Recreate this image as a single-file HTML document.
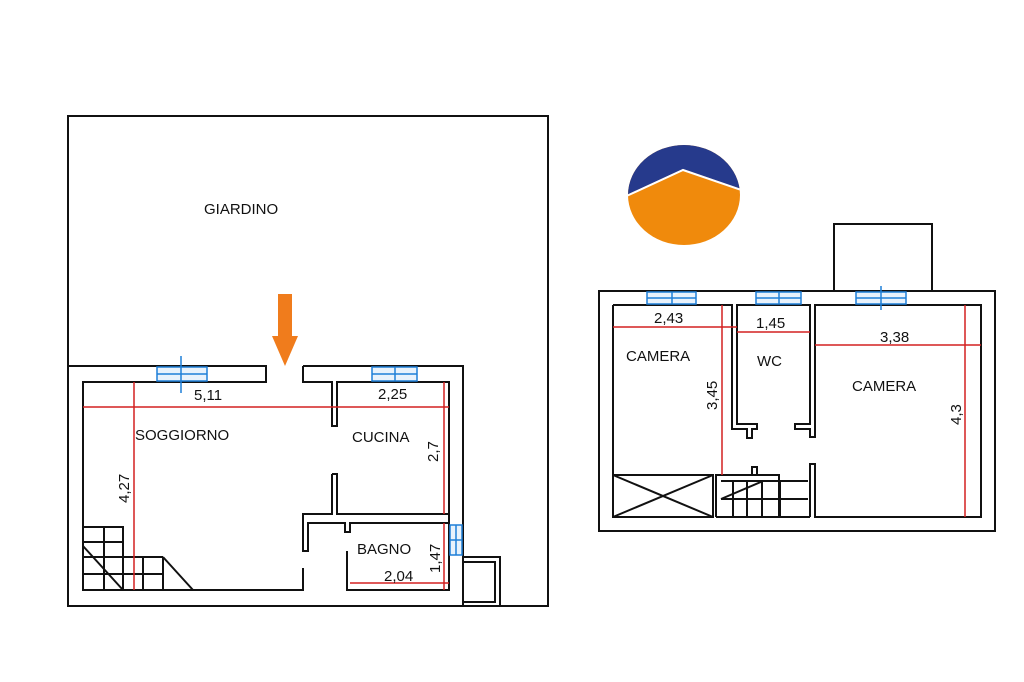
<!DOCTYPE html>
<html><head><style>body{margin:0;background:#fff}svg{display:block}</style></head><body>
<svg width="1024" height="682" viewBox="0 0 1024 682" xmlns="http://www.w3.org/2000/svg" font-family="Liberation Sans, sans-serif">
<rect width="1024" height="682" fill="#fff"/>
<defs><clipPath id="c"><ellipse cx="684" cy="195" rx="56" ry="50"/></clipPath></defs>
<g clip-path="url(#c)">
<rect x="620" y="140" width="130" height="110" fill="#f08a0c"/>
<polygon points="620,140 750,140 750,192 683,169 620,198" fill="#263a8c"/>
<polyline points="620,199 683,170 750,193" fill="none" stroke="#fff" stroke-width="2"/>
</g>
<g fill="none" stroke="#111" stroke-width="2">
<polyline points="68,366 68,116 548,116 548,606 68,606 68,366"/>
<polyline points="68,366 266,366 266,382 83,382 83,590 303,590 303,568"/>
<polyline points="303,366 463,366 463,606"/>
<polyline points="303,366 303,382 332,382 332,426 337,426 337,382 449,382 449,590 347,590 347,551"/>
<polyline points="332,474 337,474 337,514 449,514"/>
<polyline points="332,474 332,514 303,514 303,551 308,551 308,523 345,523 345,532 350,532 350,523 449,523"/>
<rect x="463" y="557" width="37" height="49"/>
<polyline points="463,602 495,602 495,562 463,562"/>
<path d="M83,527 H123 V590 M83,542 H123 M83,557 H163 M83,574 H163 M104,527 V590 M143,557 V590 M163,557 V590"/>
<path d="M83,546 L123,590 M163,557 L193,590"/>
<rect x="599" y="291" width="396" height="240"/>
<rect x="834" y="224" width="98" height="67"/>
<polyline points="613,305 732,305 732,429 747,429 747,438 752,438 752,429 757,429 757,424 737,424 737,305 810,305 810,424 795,424 795,429 810,429 810,437 815,437 815,305 981,305 981,517 815,517 815,464 810,464 810,517"/>
<polyline points="613,305 613,517 713,517 713,475 613,475"/>
<path d="M716,517 V475 H779 V517 M716,517 H810 M752,475 V467 H757 V475"/>
<path d="M613,475 L713,517 M613,517 L713,475"/>
<path d="M721,481 H808 M721,499 H808 M733,481 V517 M747,481 V517 M762,481 V517 M780,481 V517 M721,499 L763,481"/>
</g>
<g stroke="#d42020" stroke-width="1.5">
<line x1="83" y1="407" x2="449" y2="407"/>
<line x1="134" y1="382" x2="134" y2="590"/>
<line x1="444" y1="382" x2="444" y2="514"/>
<line x1="350" y1="583" x2="449" y2="583"/>
<line x1="444" y1="523" x2="444" y2="590"/>
<line x1="613" y1="327" x2="737" y2="327"/>
<line x1="722" y1="305" x2="722" y2="475"/>
<line x1="737" y1="332" x2="810" y2="332"/>
<line x1="815" y1="345" x2="981" y2="345"/>
<line x1="965" y1="305" x2="965" y2="517"/>
</g>
<g fill="#e8f2fc" stroke="#1e7fd8" stroke-width="1.5">
<rect x="157" y="367" width="50" height="14"/><line x1="157" y1="374" x2="207" y2="374"/><line x1="181" y1="356" x2="181" y2="393"/>
<rect x="372" y="367" width="45" height="14"/><line x1="372" y1="374" x2="417" y2="374"/><line x1="395" y1="367" x2="395" y2="381"/>
<rect x="450" y="525" width="12" height="30"/><line x1="456" y1="525" x2="456" y2="555"/><line x1="450" y1="540" x2="462" y2="540"/>
<rect x="647" y="292" width="49" height="12"/><line x1="647" y1="298" x2="696" y2="298"/><line x1="672" y1="292" x2="672" y2="304"/>
<rect x="756" y="292" width="45" height="12"/><line x1="756" y1="298" x2="801" y2="298"/><line x1="779" y1="292" x2="779" y2="304"/>
<rect x="856" y="292" width="50" height="12"/><line x1="856" y1="298" x2="906" y2="298"/><line x1="881" y1="286" x2="881" y2="310"/>
</g>
<polygon points="278,294 292,294 292,336 298,336 285,366 272,336 278,336" fill="#f07c1c"/>
<g font-size="15" fill="#111">
<text x="204" y="214">GIARDINO</text>
<text x="135" y="440">SOGGIORNO</text>
<text x="352" y="442">CUCINA</text>
<text x="357" y="554">BAGNO</text>
<text x="194" y="400">5,11</text>
<text x="378" y="399">2,25</text>
<text x="384" y="581">2,04</text>
<text x="654" y="323">2,43</text>
<text x="756" y="328">1,45</text>
<text x="880" y="342">3,38</text>
<text x="626" y="361">CAMERA</text>
<text x="757" y="366">WC</text>
<text x="852" y="391">CAMERA</text>
<text transform="translate(129,503) rotate(-90)">4,27</text>
<text transform="translate(438,462) rotate(-90)">2,7</text>
<text transform="translate(440,573) rotate(-90)">1,47</text>
<text transform="translate(717,410) rotate(-90)">3,45</text>
<text transform="translate(961,425) rotate(-90)">4,3</text>
</g>
</svg>
</body></html>
